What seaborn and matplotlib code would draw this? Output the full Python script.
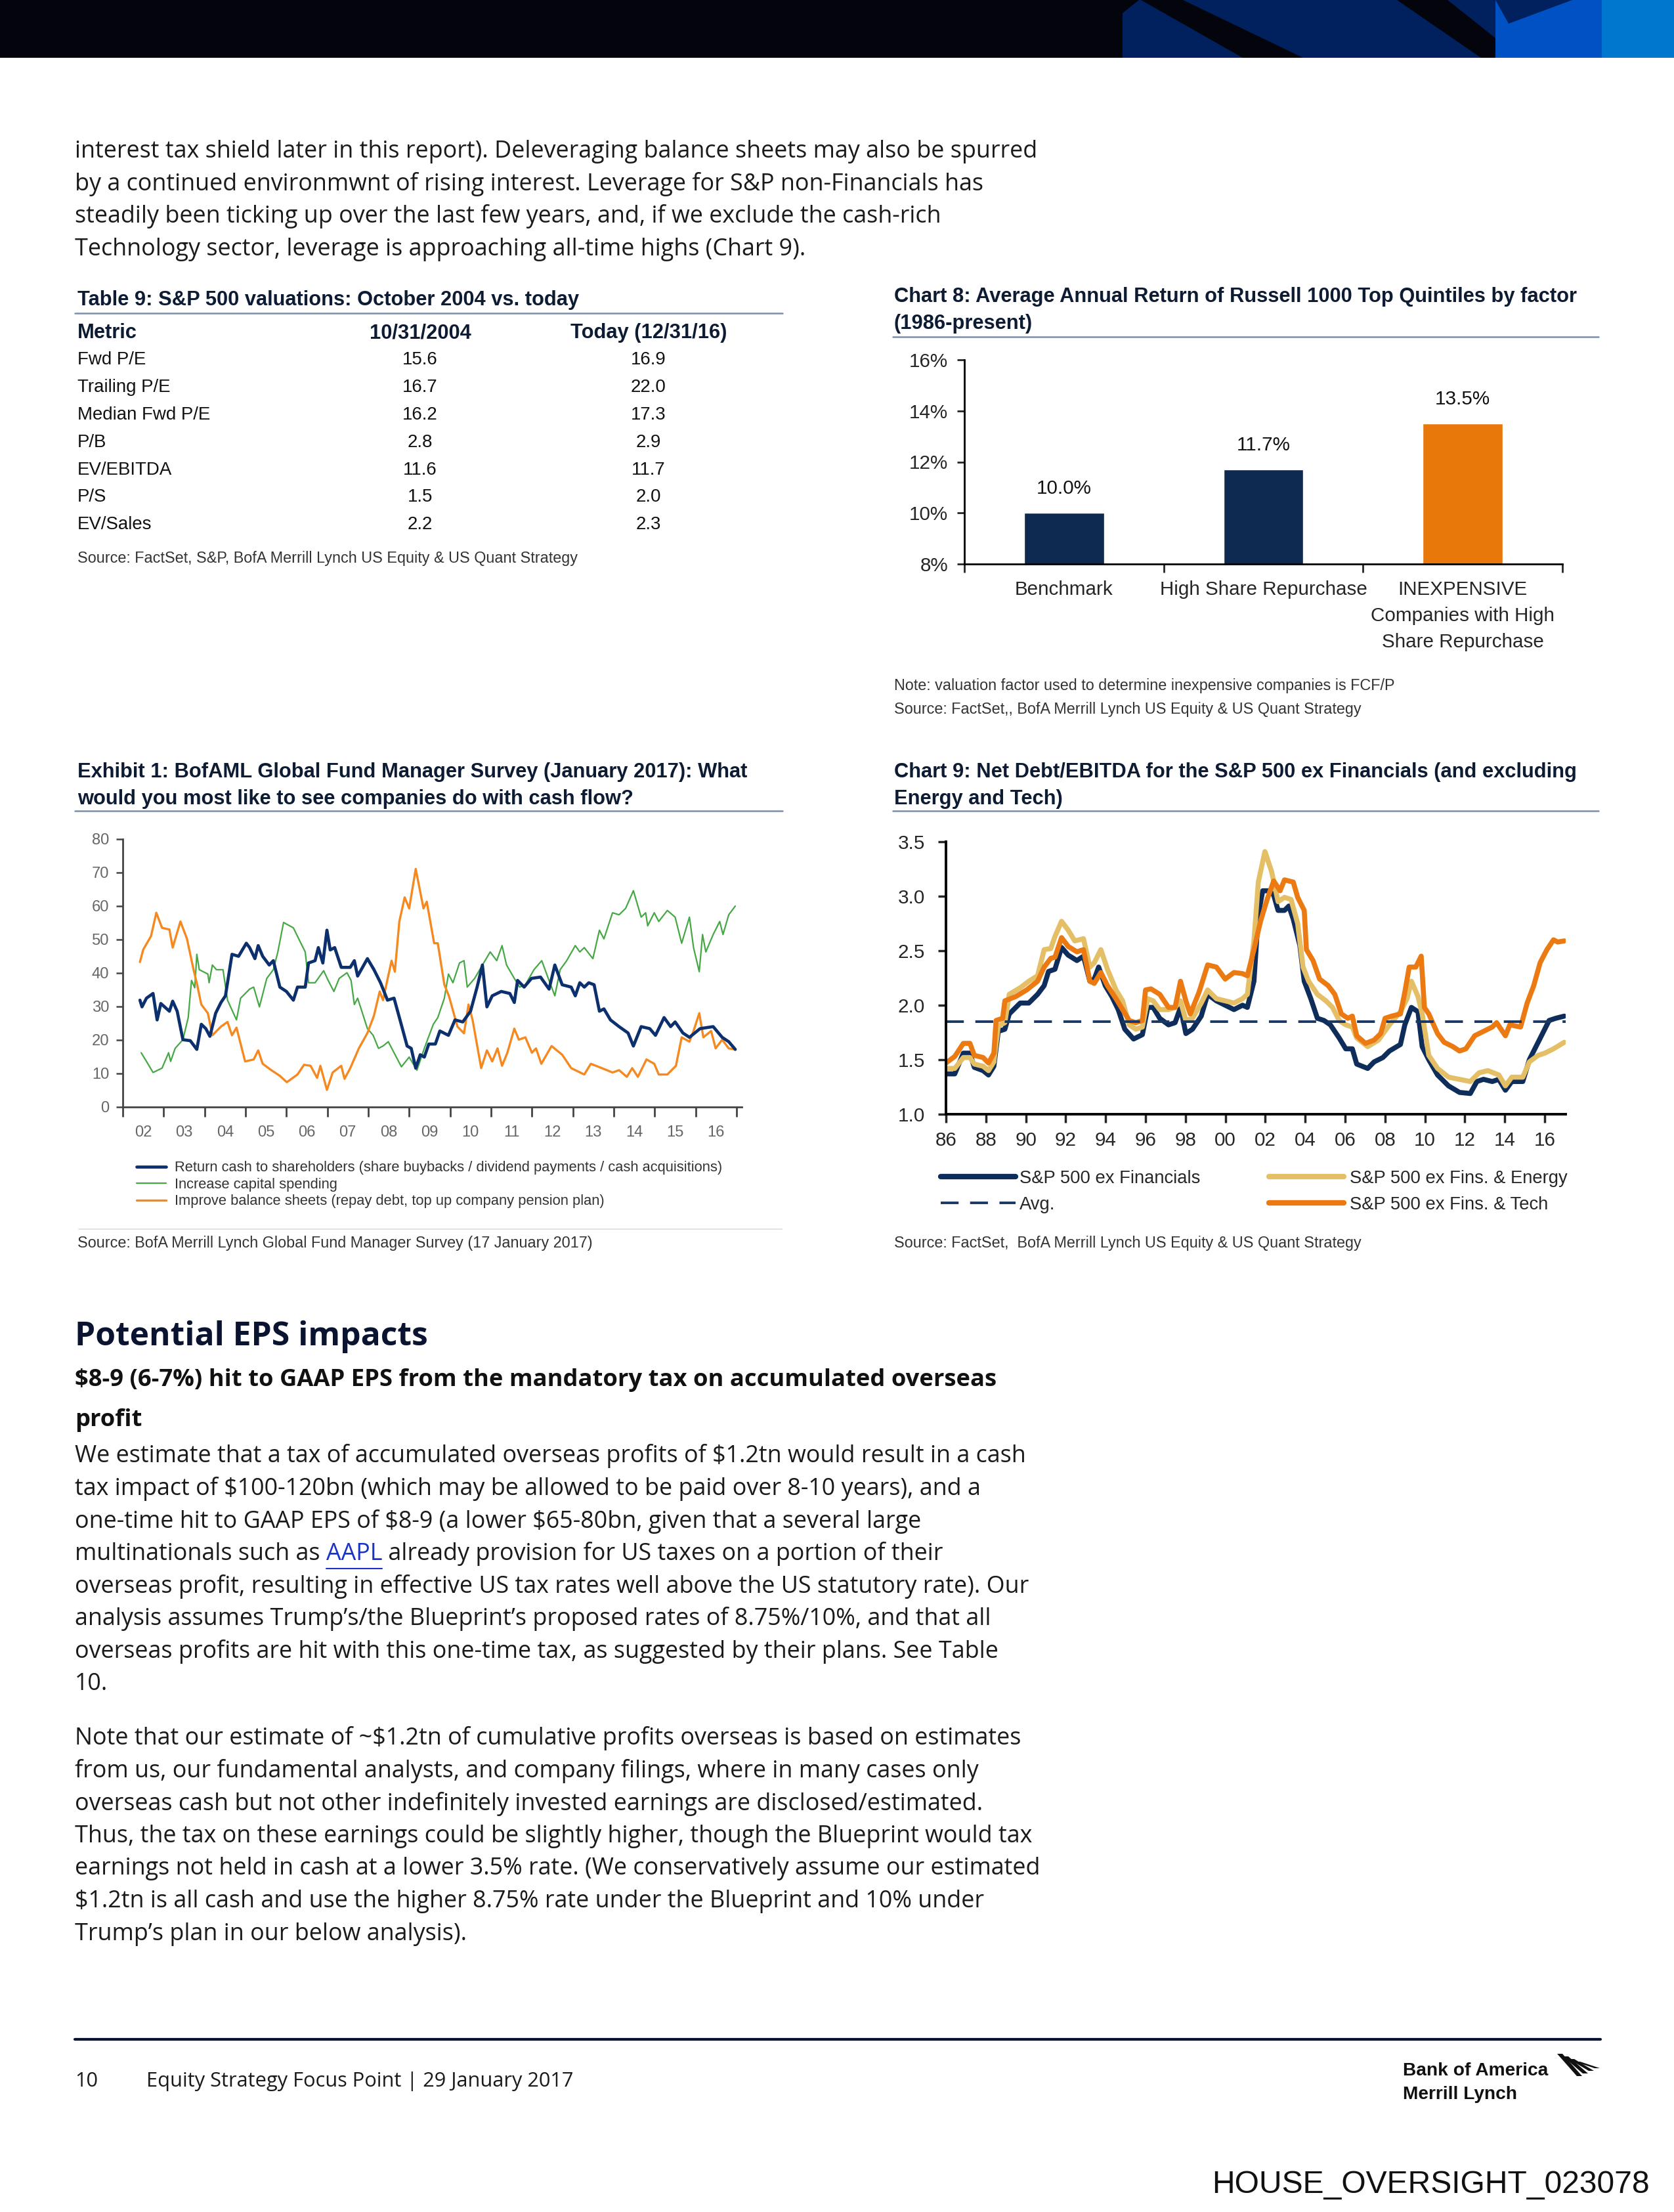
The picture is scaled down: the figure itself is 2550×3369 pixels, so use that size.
import matplotlib
matplotlib.use("Agg")
import matplotlib.pyplot as plt
from matplotlib import font_manager
from matplotlib.lines import Line2D
from matplotlib.patches import Polygon
import seaborn as sns

W, H = 2550, 3369

# Table 9
tbl_metrics = ["Fwd P/E", "Trailing P/E", "Median Fwd P/E", "P/B", "EV/EBITDA", "P/S", "EV/Sales"]
tbl_2004 = ["15.6", "16.7", "16.2", "2.8", "11.6", "1.5", "2.2"]
tbl_today = ["16.9", "22.0", "17.3", "2.9", "11.7", "2.0", "2.3"]

# Chart 8
c8_cats = ["Benchmark", "High Share Repurchase", "INEXPENSIVE\nCompanies with High\nShare Repurchase"]
c8_vals = [10.0, 11.7, 13.5]
c8_colors = ["#0f2a50", "#0f2a50", "#e8780a"]

# Exhibit 1 (fund manager survey, %)
ret_x = [2002.42, 2002.47, 2002.58, 2002.74, 2002.84, 2002.93, 2003.14, 2003.22, 2003.33, 2003.47,
         2003.65, 2003.81, 2003.92, 2004.03, 2004.13, 2004.27, 2004.40, 2004.51, 2004.67, 2004.83,
         2005.02, 2005.10, 2005.23, 2005.31, 2005.42, 2005.58, 2005.68, 2005.84, 2006.00, 2006.17,
         2006.27, 2006.46, 2006.54, 2006.70, 2006.78, 2006.89, 2006.99, 2007.07, 2007.18, 2007.34,
         2007.56, 2007.66, 2007.74, 2007.98, 2008.14, 2008.30, 2008.47, 2008.63, 2008.79, 2008.95,
         2009.05, 2009.16, 2009.27, 2009.37, 2009.48, 2009.64, 2009.75, 2009.96, 2010.12, 2010.31,
         2010.50, 2010.66, 2010.79, 2010.90, 2011.03, 2011.25, 2011.46, 2011.57, 2011.65, 2011.81,
         2011.99, 2012.21, 2012.42, 2012.56, 2012.74, 2012.96, 2013.06, 2013.17, 2013.28, 2013.39,
         2013.52, 2013.65, 2013.76, 2013.92, 2014.13, 2014.35, 2014.48, 2014.67, 2014.88, 2015.02,
         2015.23, 2015.39, 2015.50, 2015.69, 2015.85, 2016.11, 2016.43, 2016.65, 2016.81, 2016.97]
ret_y = [31.9, 29.9, 32.5, 33.9, 26.0, 30.9, 28.6, 31.6, 28.6, 20.1,
         19.8, 17.2, 24.7, 23.4, 21.1, 28.0, 31.2, 33.2, 45.6, 45.0,
         48.9, 47.6, 44.3, 48.2, 45.0, 42.4, 43.7, 35.8, 34.5, 31.9,
         35.8, 35.8, 43.0, 43.7, 47.6, 43.0, 52.8, 46.9, 47.6, 41.7,
         41.7, 43.7, 39.1, 44.3, 41.0, 37.1, 31.9, 32.5, 25.4, 18.2,
         17.5, 11.6, 15.6, 14.9, 18.8, 18.8, 22.7, 21.4, 26.0, 25.4,
         28.6, 35.8, 42.4, 29.9, 33.2, 34.5, 33.9, 31.2, 37.8, 35.8,
         38.4, 38.8, 35.2, 42.4, 36.5, 35.8, 33.2, 37.1, 35.8, 37.1,
         36.5, 28.6, 29.3, 26.0, 24.0, 22.1, 18.2, 24.0, 23.4, 21.4,
         26.7, 24.0, 25.4, 22.1, 20.8, 23.4, 24.0, 20.8, 19.5, 17.2]

capex_x = [2002.45, 2002.58, 2002.74, 2002.96, 2003.12, 2003.17, 2003.28, 2003.47, 2003.60, 2003.68,
           2003.76, 2003.81, 2003.87, 2004.08, 2004.11, 2004.19, 2004.29, 2004.45, 2004.56, 2004.78,
           2004.88, 2005.10, 2005.20, 2005.34, 2005.52, 2005.68, 2005.79, 2005.93, 2006.17, 2006.33,
           2006.46, 2006.54, 2006.70, 2006.91, 2007.02, 2007.16, 2007.29, 2007.48, 2007.58, 2007.66,
           2007.74, 2007.98, 2008.12, 2008.25, 2008.36, 2008.49, 2008.63, 2008.81, 2009.00, 2009.19,
           2009.37, 2009.59, 2009.70, 2009.86, 2009.96, 2010.07, 2010.23, 2010.34, 2010.42, 2010.60,
           2010.82, 2010.98, 2011.14, 2011.27, 2011.38, 2011.57, 2011.70, 2011.84, 2012.05, 2012.24,
           2012.40, 2012.56, 2012.69, 2012.85, 2013.06, 2013.17, 2013.28, 2013.49, 2013.65, 2013.76,
           2013.97, 2014.13, 2014.29, 2014.48, 2014.67, 2014.78, 2014.83, 2014.99, 2015.10, 2015.31,
           2015.50, 2015.66, 2015.85, 2015.95, 2016.09, 2016.17, 2016.25, 2016.43, 2016.59, 2016.67,
           2016.81, 2016.97]
capex_y = [16.2, 13.6, 10.3, 11.6, 16.2, 13.6, 17.5, 20.1, 26.7, 37.8,
           35.6, 45.6, 41.0, 39.7, 37.1, 42.4, 41.0, 41.0, 31.9, 26.0,
           32.5, 35.2, 35.8, 29.9, 38.4, 41.0, 46.3, 55.1, 53.5, 49.5,
           46.3, 37.1, 37.1, 40.7, 37.8, 34.5, 38.4, 40.1, 37.8, 30.6,
           32.5, 23.4, 21.4, 17.5, 18.2, 19.5, 16.2, 12.0, 14.9, 11.0,
           17.5, 24.7, 26.7, 32.5, 39.7, 37.1, 43.0, 43.7, 35.8, 38.4,
           43.0, 46.3, 43.7, 48.2, 42.4, 38.4, 35.8, 36.5, 41.0, 43.7,
           38.4, 33.2, 41.0, 43.7, 48.2, 46.3, 47.6, 44.3, 52.8, 50.2,
           58.0, 57.4, 59.3, 64.6, 56.7, 58.0, 54.1, 58.0, 55.4, 58.7,
           56.7, 48.9, 56.7, 47.6, 40.4, 51.5, 46.3, 51.5, 55.4, 51.5,
           57.4, 60.0]

bal_x = [2002.42, 2002.50, 2002.69, 2002.82, 2002.96, 2003.14, 2003.22, 2003.41, 2003.57, 2003.73,
         2003.81, 2003.92, 2004.08, 2004.19, 2004.40, 2004.56, 2004.67, 2004.78, 2004.99, 2005.20,
         2005.31, 2005.42, 2005.63, 2005.84, 2006.01, 2006.27, 2006.43, 2006.59, 2006.75, 2006.83,
         2006.99, 2007.13, 2007.34, 2007.42, 2007.56, 2007.77, 2007.98, 2008.14, 2008.28, 2008.36,
         2008.57, 2008.65, 2008.76, 2008.89, 2009.00, 2009.16, 2009.35, 2009.43, 2009.61, 2009.70,
         2009.86, 2009.97, 2010.18, 2010.34, 2010.45, 2010.55, 2010.76, 2010.90, 2011.03, 2011.16,
         2011.27, 2011.40, 2011.57, 2011.68, 2011.84, 2012.00, 2012.10, 2012.23, 2012.48, 2012.74,
         2012.96, 2013.28, 2013.44, 2013.71, 2013.97, 2014.13, 2014.32, 2014.45, 2014.59, 2014.80,
         2014.99, 2015.10, 2015.31, 2015.52, 2015.66, 2015.85, 2015.95, 2016.09, 2016.19, 2016.38,
         2016.49, 2016.65, 2016.81, 2016.97]
bal_y = [43.3, 47.0, 51.0, 58.0, 53.5, 53.0, 47.6, 55.4, 50.2, 41.0,
         37.0, 30.6, 28.0, 21.4, 24.0, 25.4, 21.4, 23.7, 13.6, 14.2,
         16.9, 12.9, 11.0, 9.3, 7.4, 9.7, 12.6, 12.3, 8.7, 12.3,
         5.1, 10.3, 12.3, 8.4, 11.6, 17.5, 22.1, 27.3, 34.5, 31.9,
         43.7, 40.4, 55.4, 62.6, 59.3, 71.1, 59.3, 61.3, 48.9, 48.9,
         36.5, 33.2, 24.0, 22.0, 30.6, 26.0, 11.6, 16.9, 13.6, 17.5,
         12.3, 16.2, 23.4, 20.1, 20.8, 16.2, 17.5, 12.9, 18.2, 15.6,
         11.6, 9.7, 12.9, 11.6, 10.3, 11.0, 9.0, 11.6, 9.0, 14.2,
         12.9, 9.7, 9.7, 12.3, 20.8, 19.5, 22.7, 28.0, 20.8, 22.7,
         17.5, 20.1, 17.5, 17.2]

# Chart 9 (net debt / EBITDA)
fin_x = [1986.00, 1986.44, 1986.87, 1987.20, 1987.42, 1987.86, 1988.13, 1988.40, 1988.62, 1988.95,
         1989.17, 1989.72, 1990.15, 1990.59, 1990.92, 1991.14, 1991.46, 1991.79, 1992.12, 1992.56,
         1992.89, 1993.21, 1993.43, 1993.65, 1993.98, 1994.31, 1994.63, 1994.96, 1995.40, 1995.84,
         1996.11, 1996.38, 1996.71, 1997.15, 1997.48, 1997.75, 1998.02, 1998.35, 1998.79, 1999.11,
         1999.55, 1999.99, 2000.43, 2000.86, 2001.10, 2001.43, 2001.65, 2001.87, 2002.20, 2002.42,
         2002.64, 2002.96, 2003.18, 2003.40, 2003.73, 2003.95, 2004.28, 2004.61, 2004.94, 2005.26,
         2005.70, 2006.03, 2006.36, 2006.58, 2007.13, 2007.45, 2007.89, 2008.22, 2008.77, 2008.99,
         2009.32, 2009.65, 2009.86, 2010.19, 2010.63, 2011.18, 2011.73, 2012.27, 2012.60, 2012.93,
         2013.37, 2013.70, 2014.03, 2014.35, 2014.90, 2015.23, 2015.56, 2015.89, 2016.22, 2016.55,
         2016.98]
fin_y = [1.37, 1.37, 1.56, 1.56, 1.43, 1.40, 1.36, 1.44, 1.76, 1.78,
         1.92, 2.02, 2.02, 2.10, 2.18, 2.31, 2.33, 2.53, 2.46, 2.41,
         2.45, 2.22, 2.24, 2.35, 2.18, 2.08, 1.96, 1.78, 1.69, 1.73,
         1.98, 1.98, 1.88, 1.82, 1.84, 1.98, 1.74, 1.78, 1.90, 2.10,
         2.04, 2.00, 1.96, 2.00, 1.98, 2.22, 2.83, 3.05, 3.05, 3.01,
         2.87, 2.87, 2.91, 2.79, 2.55, 2.22, 2.06, 1.88, 1.86, 1.82,
         1.70, 1.60, 1.60, 1.46, 1.42, 1.48, 1.52, 1.58, 1.64, 1.82,
         1.98, 1.94, 1.62, 1.50, 1.36, 1.26, 1.20, 1.19, 1.30, 1.32,
         1.30, 1.32, 1.22, 1.30, 1.30, 1.50, 1.62, 1.74, 1.86, 1.88,
         1.90]

energy_x = [1986.00, 1986.44, 1986.87, 1987.20, 1987.42, 1987.86, 1988.13, 1988.40, 1988.62, 1988.95,
            1989.17, 1989.72, 1990.15, 1990.59, 1990.92, 1991.25, 1991.46, 1991.79, 1992.12, 1992.45,
            1992.89, 1993.21, 1993.43, 1993.76, 1994.09, 1994.52, 1994.85, 1995.18, 1995.51, 1995.84,
            1996.11, 1996.38, 1996.71, 1997.15, 1997.48, 1997.75, 1998.02, 1998.35, 1998.79, 1999.11,
            1999.55, 1999.99, 2000.43, 2000.86, 2001.10, 2001.43, 2001.65, 2001.98, 2002.31, 2002.64,
            2002.96, 2003.29, 2003.62, 2003.89, 2004.17, 2004.61, 2005.04, 2005.37, 2005.70, 2006.03,
            2006.36, 2006.58, 2007.13, 2007.67, 2008.22, 2008.77, 2009.10, 2009.32, 2009.65, 2009.86,
            2010.19, 2010.63, 2011.18, 2011.73, 2012.27, 2012.71, 2013.15, 2013.70, 2014.03, 2014.35,
            2014.90, 2015.23, 2015.67, 2016.00, 2016.44, 2016.98]
energy_y = [1.42, 1.42, 1.52, 1.52, 1.46, 1.44, 1.40, 1.48, 1.81, 1.84,
            2.10, 2.16, 2.22, 2.27, 2.51, 2.52, 2.63, 2.77, 2.69, 2.59,
            2.61, 2.35, 2.39, 2.51, 2.33, 2.14, 2.04, 1.82, 1.78, 1.80,
            2.06, 2.04, 1.96, 1.96, 1.98, 2.04, 1.86, 1.88, 2.02, 2.14,
            2.06, 2.04, 2.02, 2.06, 2.10, 2.59, 3.13, 3.41, 3.23, 2.95,
            2.99, 2.97, 2.75, 2.35, 2.22, 2.10, 2.04, 1.98, 1.86, 1.82,
            1.80, 1.70, 1.62, 1.68, 1.82, 1.94, 2.06, 2.22, 2.08, 1.92,
            1.54, 1.42, 1.34, 1.32, 1.30, 1.38, 1.40, 1.36, 1.26, 1.34,
            1.34, 1.48, 1.54, 1.56, 1.60, 1.66]

tech_x = [1986.00, 1986.44, 1986.87, 1987.20, 1987.42, 1987.86, 1988.13, 1988.40, 1988.51, 1988.84,
          1988.95, 1989.50, 1990.04, 1990.59, 1990.92, 1991.25, 1991.46, 1991.79, 1992.12, 1992.56,
          1992.89, 1993.21, 1993.43, 1993.76, 1994.09, 1994.52, 1994.85, 1995.18, 1995.51, 1995.84,
          1996.00, 1996.27, 1996.71, 1997.15, 1997.48, 1997.75, 1998.02, 1998.24, 1998.68, 1999.11,
          1999.55, 1999.99, 2000.43, 2000.86, 2001.10, 2001.43, 2001.76, 2002.09, 2002.42, 2002.74,
          2002.96, 2003.40, 2003.62, 2003.95, 2004.06, 2004.39, 2004.72, 2005.15, 2005.48, 2005.81,
          2006.14, 2006.36, 2006.58, 2007.02, 2007.45, 2007.78, 2008.00, 2008.33, 2008.77, 2008.99,
          2009.21, 2009.54, 2009.81, 2009.97, 2010.19, 2010.63, 2010.96, 2011.40, 2011.73, 2012.05,
          2012.49, 2012.93, 2013.37, 2013.59, 2014.03, 2014.25, 2014.79, 2015.12, 2015.45, 2015.77,
          2016.11, 2016.44, 2016.65, 2016.98]
tech_y = [1.47, 1.53, 1.65, 1.65, 1.54, 1.52, 1.47, 1.56, 1.86, 1.88,
          2.04, 2.08, 2.14, 2.22, 2.35, 2.43, 2.44, 2.62, 2.54, 2.49,
          2.51, 2.22, 2.20, 2.30, 2.18, 2.06, 1.96, 1.86, 1.84, 1.86,
          2.14, 2.15, 2.10, 1.98, 1.98, 2.22, 2.04, 1.92, 2.12, 2.37,
          2.35, 2.24, 2.30, 2.29, 2.27, 2.51, 2.77, 2.97, 3.14, 3.05,
          3.15, 3.13, 2.99, 2.87, 2.51, 2.41, 2.24, 2.18, 2.10, 1.92,
          1.88, 1.90, 1.72, 1.65, 1.68, 1.74, 1.88, 1.90, 1.92, 2.12,
          2.35, 2.35, 2.45, 1.98, 1.92, 1.74, 1.66, 1.62, 1.58, 1.60,
          1.72, 1.76, 1.80, 1.84, 1.72, 1.82, 1.80, 2.02, 2.18, 2.39,
          2.51, 2.60, 2.58, 2.59]
nd_avg = 1.85

sns.set_style("white")
installed = {f.name for f in font_manager.fontManager.ttflist}
NARROW = "Liberation Sans Narrow" if "Liberation Sans Narrow" in installed else "Liberation Sans"
BODY = "Open Sans" if "Open Sans" in installed else "DejaVu Sans"
plt.rcParams["font.family"] = [NARROW, "DejaVu Sans"]

fig = plt.figure(figsize=(W / 100, H / 100), dpi=100)
renderer = fig.canvas.get_renderer()


def txt(x, y, s, size, family=None, weight="normal", color="#1a1a1a", ha="left", va="center", **kw):
    return fig.text(x / W, 1 - y / H, s, fontsize=size, family=family or NARROW, weight=weight,
                    color=color, ha=ha, va=va, parse_math=False, **kw)


def fit(s, width_px, **kw):
    t = txt(0, 0, s, 20, **kw)
    w = t.get_window_extent(renderer).width
    t.remove()
    return 20 * width_px / w


def hline(x0, x1, y, color, lw):
    fig.add_artist(Line2D([x0 / W, x1 / W], [1 - y / H, 1 - y / H], color=color, lw=lw,
                          transform=fig.transFigure))


def poly(pts, color):
    fig.add_artist(Polygon([(x / W, 1 - y / H) for x, y in pts], closed=True, facecolor=color,
                           edgecolor="none", transform=fig.transFigure))


def axes_px(left, top, right, bottom):
    return fig.add_axes([left / W, 1 - bottom / H, (right - left) / W, (bottom - top) / H])


BODY_SIZE = fit("interest tax shield later in this report). Deleveraging balance sheets may also be spurred", 1465, family=BODY)
TITLE_SIZE = fit("Chart 8: Average Annual Return of Russell 1000 Top Quintiles by factor", 1042, weight="bold")
TICK_SIZE = fit("Benchmark", 140) * 1.07
TABLE_SIZE = fit("Median Fwd P/E", 202)
TABLE_HEAD = fit("Today (12/31/16)", 238, weight="bold")
SRC_SIZE = fit("Source: FactSet, S&P, BofA Merrill Lynch US Equity & US Quant Strategy", 760)
LEG9_SIZE = fit("S&P 500 ex Financials", 275)
EXLEG_SIZE = fit("Return cash to shareholders (share buybacks / dividend payments / cash acquisitions)", 818) * 1.02
H1_SIZE = fit("Potential EPS impacts", 537, family=BODY, weight="bold")
H2_SIZE = fit("$8-9 (6-7%) hit to GAAP EPS from the mandatory tax on accumulated overseas", 1403, family=BODY, weight="bold")
FOOT_SIZE = fit("Equity Strategy Focus Point | 29 January 2017", 649, family=BODY)
HOUSE_SIZE = fit("HOUSE_OVERSIGHT_023078", 666, family="Liberation Sans")
LOGO_SIZE = fit("Bank of America", 221, weight="bold")
TITLE_C = "#0d1b33"

# header band
poly([(0, 0), (W, 0), (W, 88), (0, 88)], "#03040c")
poly([(1710, 20), (1735, 0), (2278, 0), (2278, 88), (1710, 88)], "#00215e")
poly([(1738, 0), (1802, 0), (1985, 88), (1893, 88)], "#03040c")
poly([(2128, 0), (2205, 0), (2278, 58), (2278, 88), (2256, 88)], "#03040c")
poly([(2278, 0), (2440, 0), (2440, 88), (2278, 88)], "#0052c4")
poly([(2278, 0), (2395, 0), (2298, 36)], "#00215e")
poly([(2440, 0), (W, 0), (W, 88), (2440, 88)], "#0077cf")

top_lines = [
    "interest tax shield later in this report). Deleveraging balance sheets may also be spurred",
    "by a continued environmwnt of rising interest. Leverage for S&P non-Financials has",
    "steadily been ticking up over the last few years, and, if we exclude the cash-rich",
    "Technology sector, leverage is approaching all-time highs (Chart 9).",
]
for i, line in enumerate(top_lines):
    txt(114, 231 + 49.5 * i, line, BODY_SIZE, family=BODY)

# Table 9
txt(118, 457, "Table 9: S&P 500 valuations: October 2004 vs. today", TITLE_SIZE, weight="bold", color=TITLE_C)
hline(114, 1192, 477, "#7d8fa9", 1.8)
txt(118, 507, "Metric", TABLE_HEAD, weight="bold", color=TITLE_C)
txt(640, 507, "10/31/2004", TABLE_HEAD, weight="bold", color=TITLE_C, ha="center")
txt(988, 507, "Today (12/31/16)", TABLE_HEAD, weight="bold", color=TITLE_C, ha="center")
for i, (m, a, b) in enumerate(zip(tbl_metrics, tbl_2004, tbl_today)):
    y = 548 + 41.9 * i
    txt(118, y, m, TABLE_SIZE, color="#111111")
    txt(640, y, a, TABLE_SIZE, color="#111111", ha="center")
    txt(988, y, b, TABLE_SIZE, color="#111111", ha="center")
txt(118, 851, "Source: FactSet, S&P, BofA Merrill Lynch US Equity & US Quant Strategy", SRC_SIZE, color="#333333")

# Chart 8
txt(1362, 452, "Chart 8: Average Annual Return of Russell 1000 Top Quintiles by factor", TITLE_SIZE, weight="bold", color=TITLE_C)
txt(1362, 493, "(1986-present)", TITLE_SIZE, weight="bold", color=TITLE_C)
hline(1360, 2435, 513, "#7d8fa9", 1.8)
ax8 = axes_px(1469, 548, 2380, 859)
sns.barplot(x=c8_cats, y=c8_vals, hue=c8_cats, palette=c8_colors, width=0.4, saturation=1,
            legend=False, ax=ax8)
ax8.set_xlim(-0.5, 2.5)
ax8.set_ylim(8, 16)
ax8.set_yticks(range(8, 17, 2))
ax8.set_yticklabels([f"{v}%" for v in range(8, 17, 2)])
ax8.set_xticks(range(len(c8_cats)))
ax8.set_xticklabels(c8_cats, linespacing=1.55)
ax8.set_xticks([-0.5, 0.5, 1.5, 2.5], minor=True)
ax8.tick_params(axis="y", length=8, width=2, direction="out", pad=10, labelsize=TICK_SIZE, left=True)
ax8.tick_params(axis="x", which="major", length=0, pad=18, labelsize=TICK_SIZE)
ax8.tick_params(axis="x", which="minor", length=9, width=2, direction="out", bottom=True)
for i, v in enumerate(c8_vals):
    ax8.text(i, v + 0.95, f"{v:.1f}%", ha="center", va="center", fontsize=TICK_SIZE, color="#111111")
sns.despine(ax=ax8)
for s in ("left", "bottom"):
    ax8.spines[s].set_linewidth(2)
    ax8.spines[s].set_color("black")
ax8.set_ylabel("")
txt(1362, 1044, "Note: valuation factor used to determine inexpensive companies is FCF/P", SRC_SIZE, color="#333333")
txt(1362, 1080, "Source: FactSet,, BofA Merrill Lynch US Equity & US Quant Strategy", SRC_SIZE, color="#333333")

# Exhibit 1
txt(118, 1176, "Exhibit 1: BofAML Global Fund Manager Survey (January 2017): What", TITLE_SIZE, weight="bold", color=TITLE_C)
txt(118, 1217, "would you most like to see companies do with cash flow?", TITLE_SIZE, weight="bold", color=TITLE_C)
hline(114, 1192, 1235, "#7d8fa9", 1.8)
ax1 = axes_px(187, 1278, 1130, 1686)
ex_series = [
    (capex_x, capex_y, "#45a845", 1.6),
    (bal_x, bal_y, "#f5891f", 2.4),
    (ret_x, ret_y, "#0c2f6e", 3.4),
]
for xs, ys, c, lw in ex_series:
    sns.lineplot(x=xs, y=ys, color=c, lw=lw, ax=ax1)
ax1.set_xlim(2002, 2017.13)
ax1.set_ylim(0, 80)
ax1.set_yticks(range(0, 81, 10))
ax1.set_xticks(range(2002, 2018))
ax1.set_xticklabels([])
ax1.set_xticks([y + 0.5 for y in range(2002, 2017)], minor=True)
ax1.set_xticklabels([f"{y % 100:02d}" for y in range(2002, 2017)], minor=True)
ax1.tick_params(axis="y", length=7, width=1.8, color="#444444", direction="out", pad=8,
                labelsize=TICK_SIZE * 0.8, labelcolor="#666666", left=True)
ax1.tick_params(axis="x", which="major", length=11, width=2, color="#444444", direction="out", bottom=True)
ax1.tick_params(axis="x", which="minor", length=0, pad=20, labelsize=TICK_SIZE * 0.8, labelcolor="#666666")
sns.despine(ax=ax1)
for s in ("left", "bottom"):
    ax1.spines[s].set_linewidth(2)
    ax1.spines[s].set_color("#444444")
ex_handles = [Line2D([], [], color="#0c2f6e", lw=3.4), Line2D([], [], color="#45a845", lw=1.6),
              Line2D([], [], color="#f5891f", lw=2.4)]
ex_labels = ["Return cash to shareholders (share buybacks / dividend payments / cash acquisitions)",
             "Increase capital spending",
             "Improve balance sheets (repay debt, top up company pension plan)"]
fs = EXLEG_SIZE * 100 / 72
fig.legend(ex_handles, ex_labels, loc="upper left", bbox_to_anchor=(208 / W, 1 - (1782 - 0.62 * fs) / H),
           frameon=False, fontsize=EXLEG_SIZE, handlelength=45 / fs, handletextpad=13 / fs,
           labelspacing=0.2, borderpad=0, borderaxespad=0, labelcolor="#333333")
hline(120, 1191, 1872, "#dddddd", 1.2)
txt(118, 1893, "Source: BofA Merrill Lynch Global Fund Manager Survey (17 January 2017)", SRC_SIZE, color="#333333")

# Chart 9
txt(1362, 1176, "Chart 9: Net Debt/EBITDA for the S&P 500 ex Financials (and excluding", TITLE_SIZE, weight="bold", color=TITLE_C)
txt(1362, 1217, "Energy and Tech)", TITLE_SIZE, weight="bold", color=TITLE_C)
hline(1360, 2435, 1235, "#7d8fa9", 1.8)
ax9 = axes_px(1441, 1282, 2385, 1697)
nd_series = [
    (fin_x, fin_y, "#0e2d5a"),
    (energy_x, energy_y, "#e4bf66"),
    (tech_x, tech_y, "#ec7a12"),
]
for xs, ys, c in nd_series:
    sns.lineplot(x=xs, y=ys, color=c, lw=5.5, ax=ax9)
ax9.axhline(nd_avg, color="#1b3863", lw=2.8, dashes=(7, 4.5))
ax9.set_xlim(1986, 2017.05)
ax9.set_ylim(1.0, 3.5)
ax9.set_xticks(range(1986, 2017, 2))
ax9.set_xticklabels([f"{y % 100:02d}" for y in range(1986, 2017, 2)])
ax9.set_yticks([1.0, 1.5, 2.0, 2.5, 3.0, 3.5])
ax9.set_yticklabels([f"{v:.1f}" for v in [1.0, 1.5, 2.0, 2.5, 3.0, 3.5]])
ax9.tick_params(axis="both", length=9, width=2.5, direction="out", labelsize=TICK_SIZE, left=True, bottom=True)
ax9.tick_params(axis="y", pad=14)
ax9.tick_params(axis="x", pad=10)
sns.despine(ax=ax9)
for s in ("left", "bottom"):
    ax9.spines[s].set_linewidth(2.8)
    ax9.spines[s].set_color("black")
fs9 = LEG9_SIZE * 100 / 72
leg_kw = dict(loc="upper left", frameon=False, fontsize=LEG9_SIZE, handlelength=114 / fs9,
              labelspacing=0.5, borderpad=0, borderaxespad=0)
fig.legend([Line2D([], [], color="#0e2d5a", lw=6), Line2D([], [], color="#1b3863", lw=2.8, dashes=(7, 4.5))],
           ["S&P 500 ex Financials", "Avg."], bbox_to_anchor=(1433 / W, 1 - (1799 - 0.62 * fs9) / H),
           handletextpad=6 / fs9, **leg_kw)
fig.legend([Line2D([], [], color="#e4bf66", lw=6), Line2D([], [], color="#ec7a12", lw=6)],
           ["S&P 500 ex Fins. & Energy", "S&P 500 ex Fins. & Tech"], bbox_to_anchor=(1933 / W, 1 - (1799 - 0.62 * fs9) / H),
           handletextpad=9 / fs9, **leg_kw)
txt(1362, 1893, "Source: FactSet,  BofA Merrill Lynch US Equity & US Quant Strategy", SRC_SIZE, color="#333333")

# text section
txt(114, 2036, "Potential EPS impacts", H1_SIZE, family=BODY, weight="bold", color="#0a1430")
txt(114, 2102, "$8-9 (6-7%) hit to GAAP EPS from the mandatory tax on accumulated overseas", H2_SIZE, family=BODY, weight="bold", color="#111111")
txt(114, 2163, "profit", H2_SIZE, family=BODY, weight="bold", color="#111111")

para1 = [
    "We estimate that a tax of accumulated overseas profits of $1.2tn would result in a cash",
    "tax impact of $100-120bn (which may be allowed to be paid over 8-10 years), and a",
    "one-time hit to GAAP EPS of $8-9 (a lower $65-80bn, given that a several large",
    None,
    "overseas profit, resulting in effective US tax rates well above the US statutory rate). Our",
    "analysis assumes Trump\u2019s/the Blueprint\u2019s proposed rates of 8.75%/10%, and that all",
    "overseas profits are hit with this one-time tax, as suggested by their plans. See Table",
    "10.",
]
for i, line in enumerate(para1):
    y = 2218 + 49.6 * i
    if line is None:
        t = txt(114, y, "multinationals such as ", BODY_SIZE, family=BODY)
        x = 114 + t.get_window_extent(renderer).width
        t2 = txt(x, y, "AAPL", BODY_SIZE, family=BODY, color="#1a33c4")
        x2 = x + t2.get_window_extent(renderer).width
        hline(x, x2, y + 0.62 * BODY_SIZE * 100 / 72, "#1a33c4", 1.5)
        txt(x2, y, " already provision for US taxes on a portion of their", BODY_SIZE, family=BODY)
    else:
        txt(114, y, line, BODY_SIZE, family=BODY)

para2 = [
    "Note that our estimate of ~$1.2tn of cumulative profits overseas is based on estimates",
    "from us, our fundamental analysts, and company filings, where in many cases only",
    "overseas cash but not other indefinitely invested earnings are disclosed/estimated.",
    "Thus, the tax on these earnings could be slightly higher, though the Blueprint would tax",
    "earnings not held in cash at a lower 3.5% rate. (We conservatively assume our estimated",
    "$1.2tn is all cash and use the higher 8.75% rate under the Blueprint and 10% under",
    "Trump\u2019s plan in our below analysis).",
]
for i, line in enumerate(para2):
    txt(114, 2648 + 49.6 * i, line, BODY_SIZE, family=BODY)

# footer
hline(114, 2438, 3106, "#0a1330", 3)
txt(114, 3170, "10", FOOT_SIZE, family=BODY)
txt(223, 3170, "Equity Strategy Focus Point | 29 January 2017", FOOT_SIZE, family=BODY)
txt(2137, 3154, "Bank of America", LOGO_SIZE, weight="bold", color="#111111")
txt(2137, 3190, "Merrill Lynch", LOGO_SIZE, weight="bold", color="#111111")
for k in range(4):
    poly([(2372 + 9 * k, 3128 + 4 * k), (2380 + 9 * k, 3128 + 4 * k),
          (2410 + 9 * k, 3162 - 4 * k), (2402 + 9 * k, 3162 - 4 * k)], "#111111")
txt(2513, 3328, "HOUSE_OVERSIGHT_023078", HOUSE_SIZE, family="Liberation Sans", ha="right", color="#111111")

fig.savefig("out.png", dpi=100, facecolor="white")
